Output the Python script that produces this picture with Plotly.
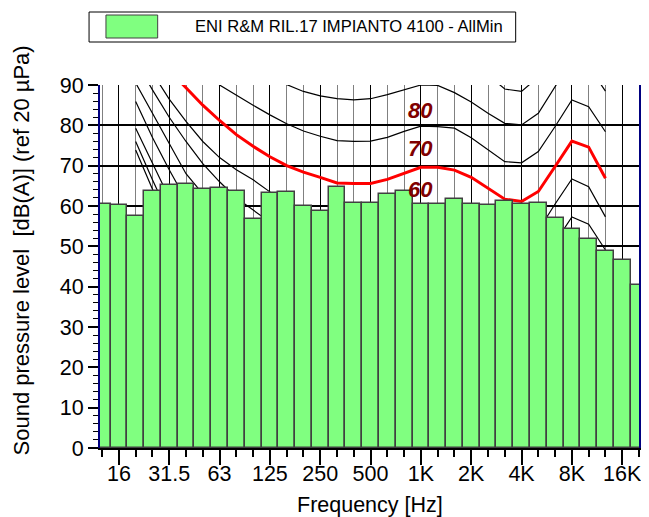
import plotly.graph_objects as go

# 1/3-octave bands shown on the x axis (12.5 Hz .. 20 kHz)
bands = ["12.5", "16", "20", "25", "31.5", "40", "50", "63", "80", "100", "125", "160",
         "200", "250", "315", "400", "500", "630", "800", "1K", "1.25K", "1.6K", "2K",
         "2.5K", "3.15K", "4K", "5K", "6.3K", "8K", "10K", "12.5K", "16K", "20K"]
# measured levels dB(A)
levels = [60.5, 60.3, 57.5, 63.6, 65.2, 65.5, 64.1, 64.5, 63.8, 56.9, 63.2, 63.5,
          60.0, 58.8, 64.6, 60.8, 60.8, 62.9, 63.6, 60.5, 60.5, 61.7, 60.5,
          60.2, 61.2, 60.5, 60.8, 57.0, 54.2, 51.9, 48.9, 46.6, 40.4]
octave_labels = ["16", "31.5", "63", "125", "250", "500", "1K", "2K", "4K", "8K", "16K"]

# equal-loudness contours, 20 Hz .. 12.5 kHz
contour_bands = bands[2:31]
contour_100 = [121, 117, 113.5, 110.5, 108, 106, 104, 102.5, 101, 100, 98.8, 97.8, 97.1, 96.8, 97.0,
               98.0, 99.0, 100.0, 99.7, 98.0, 95.4, 92.5, 89.0, 88.4, 92.0, 99.5, 106.0, 104.5, 98.2]
contour_90 = [117, 112.5, 108.5, 105, 102, 99, 96.5, 94, 91.8, 90.0, 88.4, 87.3, 86.6, 86.3, 86.6,
              87.6, 88.8, 90.0, 89.9, 88.1, 85.8, 83.0, 80.5, 80.1, 83.0, 89.6, 96.2, 94.6, 88.5]
contour_80 = [113, 107.5, 103, 98.5, 94, 90.0, 87.4, 85.0, 82.6, 80.4, 78.6, 77.3, 76.2, 76.0, 76.1,
              77.0, 78.5, 79.8, 79.7, 79.3, 76.9, 74.0, 71.0, 70.7, 73.5, 79.7, 86.3, 84.6, 78.4]
contour_70 = [103.5, 98.5, 93.7, 89.3, 85.0, 81.2, 77.7, 74.8, 72.2, 70.0, 68.4, 67.1, 65.7, 65.6, 65.6,
              66.6, 68.1, 69.6, 69.6, 68.9, 67.1, 64.5, 61.7, 61.1, 63.6, 69.8, 76.1, 74.6, 66.9]
contour_60 = [100, 93, 86.5, 81, 76, 72, 69, 66.5, 63.5, 60.5, 58.6, 57.3, 56.0, 55.8, 55.8,
              56.6, 58.0, 59.6, 59.6, 58.8, 57.0, 54.5, 51.8, 51.4, 54.0, 60.5, 66.7, 64.8, 57.3]
contour_50 = [96, 88.8, 82, 76, 70.5, 66, 62, 59, 56, 52.5, 50, 48, 46.5, 46, 45.9,
              46.6, 48, 49.6, 49.6, 48.8, 47, 44.5, 41.8, 41.4, 44, 51, 57.3, 55.5, 49.1]
contour_40 = [90.5, 83, 75.5, 68, 63, 58, 53.5, 49.5, 46, 43, 40.5, 38.5, 37, 36.2, 36,
              36.6, 38, 39.6, 39.6, 38.8, 37, 34.5, 31.8, 31.4, 34, 41, 47.5, 45.7, 39.5]
contour_30 = [85.9, 77, 69, 61.5, 55, 49.5, 44.5, 40.5, 36.5, 33.5, 31, 29, 27.5, 26.5, 26.2,
              26.8, 28, 29.6, 29.6, 28.8, 27, 24.5, 21.8, 21.4, 24, 31, 37.5, 35.7, 29.5]
contour_20 = [79.3, 70.5, 62, 54, 47, 41, 35.5, 31, 27, 23.8, 21.2, 19.2, 17.7, 16.8, 16.3,
              16.8, 18, 19.6, 19.6, 18.8, 17, 14.5, 11.8, 11.4, 14, 21, 27.5, 25.7, 19.5]
contour_10 = [76.0, 66.5, 57.5, 49, 41.5, 34.5, 28.5, 23.5, 19, 15.5, 12.5, 10.3, 8.5, 7.5, 7,
              7.2, 8.3, 9.6, 9.6, 8.8, 7, 4.5, 1.8, 1.4, 4, 11, 17.5, 15.7, 9.5]
contour_0 = [73.9, 64, 54.5, 45.5, 37.5, 30, 23.5, 18, 13.2, 9.2, 6, 3.5, 1.5, 0.3, -0.3,
             -0.2, 0.8, 2.4, 2.4, 1.6, -0.2, -2.7, -5.4, -5.8, -3.2, 3.8, 10.3, 8.5, 2.3]
contour_labels = ["80", "70", "60"]
contour_label_levels = [83.8, 74.2, 64.0]

series_name = "ENI R&amp;M RIL.17 IMPIANTO 4100 - AllMin"

pos = {b: i for i, b in enumerate(bands)}
bar_x = [pos[b] for b in bands]
cx = [pos[b] for b in contour_bands]

fig = go.Figure()

black_contours = [contour_100, contour_90, contour_80, contour_60, contour_50,
                  contour_40, contour_30, contour_20, contour_10, contour_0]
for c in black_contours:
    fig.add_trace(go.Scatter(x=cx, y=c, mode="lines", xaxis="x", yaxis="y",
                             line=dict(color="black", width=1.2), showlegend=False,
                             hoverinfo="skip"))
fig.add_trace(go.Scatter(x=cx, y=contour_70, mode="lines", xaxis="x", yaxis="y",
                         line=dict(color="#FF0000", width=3), showlegend=False,
                         hoverinfo="skip"))

fig.add_trace(go.Bar(x=bar_x, y=levels, xaxis="x2", yaxis="y2", width=1.0,
                     name="ENI R&M RIL.17 IMPIANTO 4100 - AllMin",
                     marker=dict(color="#80FF80", line=dict(color="#404040", width=1.5)),
                     showlegend=False))

xr = [-0.126, 32.0]
yr = [0, 90]
font_main = "Liberation Sans, Arial, sans-serif"

# page body has an 8px margin: figure is sized/offset to compensate
fig.update_layout(
    width=641, height=509,
    margin=dict(l=92, r=7, t=77, b=69),
    plot_bgcolor="white", paper_bgcolor="white",
    showlegend=False, bargap=0,
    font=dict(family=font_main, size=21, color="black"),
    xaxis=dict(range=xr, tickmode="array",
               tickvals=[pos[b] for b in octave_labels], ticktext=octave_labels,
               ticks="outside", ticklen=15, tickwidth=1.5, tickcolor="black",
               ticklabelstandoff=-10,
               showline=True, linecolor="black", linewidth=2,
               showgrid=True, gridcolor="black", gridwidth=1, zeroline=False,
               tickfont=dict(size=21.5),
               minor=dict(tickmode="array", tickvals=bar_x, ticks="outside", ticklen=7,
                          tickwidth=1.5, tickcolor="black", showgrid=True,
                          gridcolor="#808080", gridwidth=1)),
    yaxis=dict(range=yr, tick0=0, dtick=10, ticks="outside", ticklen=10, tickwidth=1.5,
               tickcolor="black", showline=True, linecolor="#000080", linewidth=2,
               mirror=True, showgrid=True, gridcolor="black", gridwidth=2, zeroline=False,
               tickfont=dict(size=21.5),
               minor=dict(dtick=2, ticks="outside", ticklen=5, tickwidth=1,
                          tickcolor="black", showgrid=False)),
    xaxis2=dict(range=xr, overlaying="x", visible=False, showgrid=False),
    yaxis2=dict(range=yr, overlaying="y", visible=False, showgrid=False),
)

# contour labels
for t, lv in zip(contour_labels, contour_label_levels):
    fig.add_annotation(x=pos["1K"], y=lv, xref="x", yref="y", text=f"<b><i>{t}</i></b>",
                       showarrow=False, font=dict(size=22, color="#800000", family=font_main))

# axis titles
fig.add_annotation(x=0.5, y=(448 - 505) / 363, xref="paper", yref="paper",
                   text="Frequency [Hz]", showarrow=False, yanchor="middle",
                   font=dict(size=21.5))
fig.add_annotation(x=(21 - 100) / 542, y=(448 - 250) / 363, xref="paper", yref="paper",
                   text="Sound pressure level  [dB(A)] (ref 20 µPa)", textangle=-90,
                   showarrow=False, xanchor="center", yanchor="middle", font=dict(size=22))

# legend box
fig.add_shape(type="rect", xref="paper", yref="paper",
              x0=(89 - 100) / 542, x1=(518 - 100) / 542,
              y0=(448 - 42) / 363, y1=(448 - 12) / 363,
              line=dict(color="black", width=1), fillcolor="white")
fig.add_shape(type="rect", xref="paper", yref="paper",
              x0=(106 - 100) / 542, x1=(158 - 100) / 542,
              y0=(448 - 38) / 363, y1=(448 - 15) / 363,
              line=dict(color="#404040", width=1), fillcolor="#80FF80")
fig.add_annotation(x=(194 - 100) / 542, y=(448 - 27) / 363, xref="paper", yref="paper",
                   text=series_name, showarrow=False, xanchor="left", yanchor="middle",
                   font=dict(size=16.6, family=font_main))

fig.write_html("out.html")
